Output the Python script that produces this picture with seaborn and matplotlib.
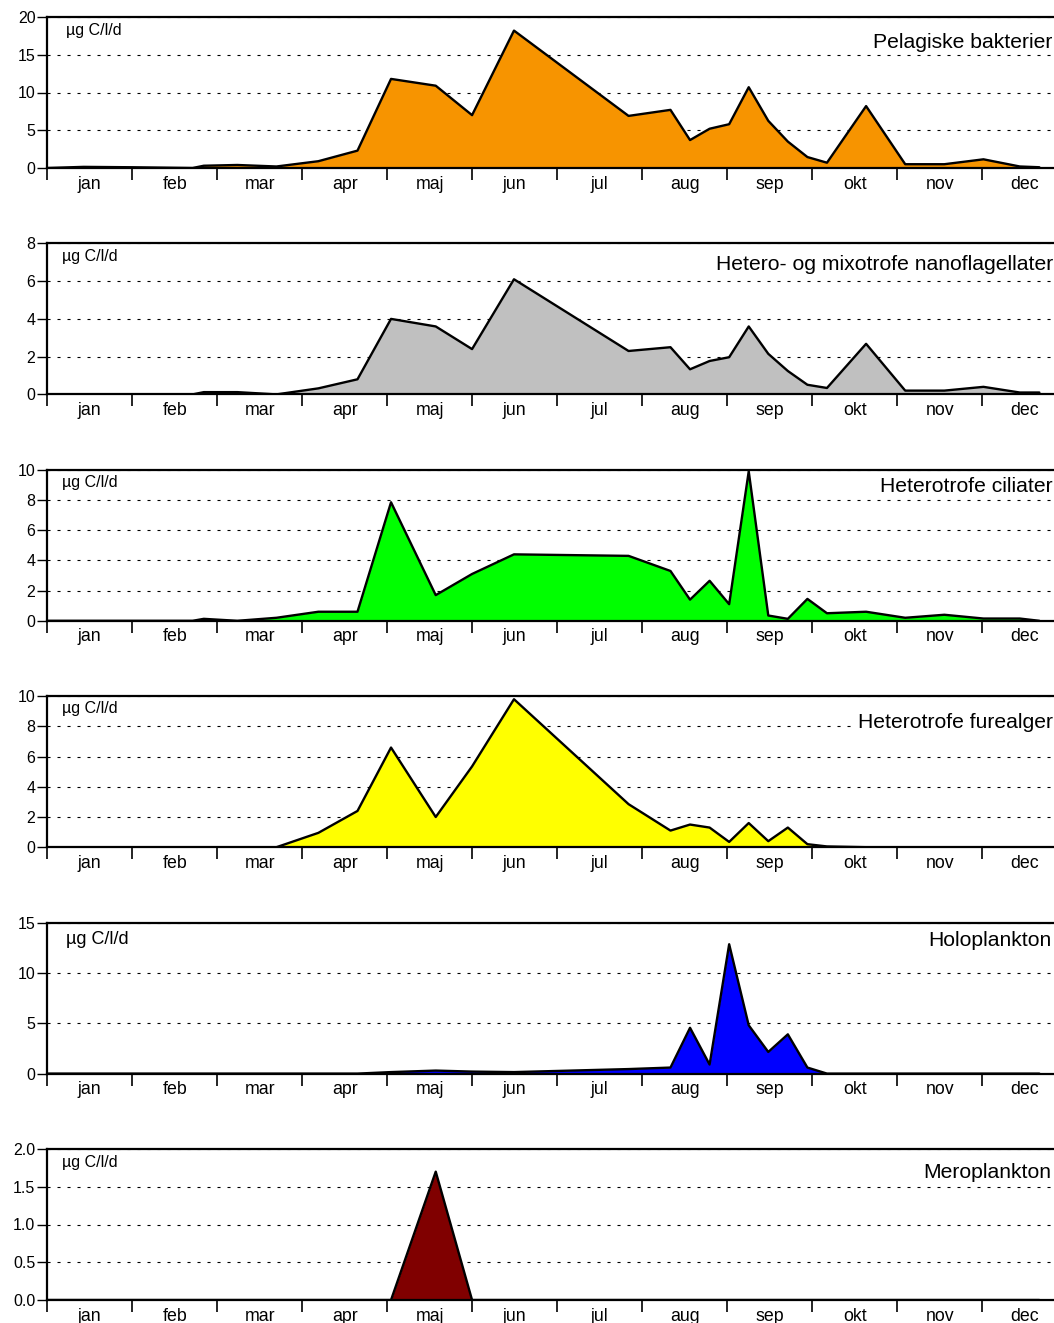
import numpy as np
import pandas as pd
import matplotlib
matplotlib.use("Agg")
import matplotlib.pyplot as plt
import seaborn as sns

# ---------------- data ----------------
months = ["jan", "feb", "mar", "apr", "maj", "jun", "jul", "aug", "sep", "okt", "nov", "dec"]

# sampling dates (day of year)
days = [0, 13, 30, 52, 56, 68, 82, 97, 111, 123,
        139, 152, 167, 208, 223, 230, 237, 244, 251, 258,
        265, 272, 279, 293, 307, 321, 335, 348, 355]

bakterier = [0, 0.15, 0.1, 0.0, 0.3, 0.4, 0.2, 0.9, 2.3, 11.8,
             10.9, 7.0, 18.2, 6.9, 7.7, 3.7, 5.2, 5.8, 10.7, 6.25,
             3.5, 1.45, 0.7, 8.2, 0.5, 0.5, 1.15, 0.2, 0.1]
nanoflagellater = [0, 0, 0, 0, 0.12, 0.12, 0.0, 0.32, 0.8, 4.0,
                   3.6, 2.4, 6.1, 2.3, 2.5, 1.33, 1.77, 1.97, 3.6, 2.15,
                   1.24, 0.51, 0.34, 2.68, 0.2, 0.2, 0.4, 0.1, 0.1]
ciliater = [0, 0, 0, 0, 0.13, 0.0, 0.2, 0.6, 0.6, 7.85,
            1.7, 3.1, 4.4, 4.3, 3.3, 1.4, 2.65, 1.1, 9.9, 0.35,
            0.13, 1.45, 0.5, 0.6, 0.2, 0.4, 0.15, 0.15, 0.0]
furealger = [0, 0, 0, 0, 0, 0, 0, 0.95, 2.4, 6.6,
             2.0, 5.35, 9.8, 2.85, 1.1, 1.5, 1.3, 0.35, 1.6, 0.4,
             1.3, 0.2, 0.05, 0, 0, 0, 0, 0, 0]
holoplankton = [0, 0, 0, 0, 0, 0, 0, 0, 0, 0.15,
                0.3, 0.2, 0.15, 0.45, 0.6, 4.55, 0.9, 12.85, 4.8, 2.15,
                3.9, 0.6, 0, 0, 0, 0, 0, 0, 0]
meroplankton = [0, 0, 0, 0, 0, 0, 0, 0, 0, 0,
                1.7, 0, 0, 0, 0, 0, 0, 0, 0, 0,
                0, 0, 0, 0, 0, 0, 0, 0, 0]

titles = ["Pelagiske bakterier", "Hetero- og mixotrofe nanoflagellater",
          "Heterotrofe ciliater", "Heterotrofe furealger",
          "Holoplankton", "Meroplankton"]
unit = "µg C/l/d"
y_ticks = [[0, 5, 10, 15, 20], [0, 2, 4, 6, 8], [0, 2, 4, 6, 8, 10],
           [0, 2, 4, 6, 8, 10], [0, 5, 10, 15], [0.0, 0.5, 1.0, 1.5, 2.0]]
y_ticklabels = [["0", "5", "10", "15", "20"], ["0", "2", "4", "6", "8"],
                ["0", "2", "4", "6", "8", "10"], ["0", "2", "4", "6", "8", "10"],
                ["0", "5", "10", "15"], ["0.0", "0.5", "1.0", "1.5", "2.0"]]

df = pd.DataFrame({"day": days, "bakterier": bakterier,
                   "nanoflagellater": nanoflagellater, "ciliater": ciliater,
                   "furealger": furealger, "holoplankton": holoplankton,
                   "meroplankton": meroplankton})
series = ["bakterier", "nanoflagellater", "ciliater", "furealger",
          "holoplankton", "meroplankton"]
colors = ["#F79400", "#C0C0C0", "#00FF00", "#FFFF00", "#0000FF", "#800000"]

# ---------------- style ----------------
sns.set_theme(style="white")
plt.rcParams["font.family"] = ["Liberation Sans", "DejaVu Sans"]
plt.rcParams["lines.scale_dashes"] = False
plt.rcParams["text.color"] = "black"
plt.rcParams["xtick.color"] = "black"
plt.rcParams["ytick.color"] = "black"
plt.rcParams["xtick.labelcolor"] = "black"
plt.rcParams["ytick.labelcolor"] = "black"

W, H = 1054, 1323
fig = plt.figure(figsize=(W / 100, H / 100), dpi=100)

tops = [17, 243.4, 469.8, 696.2, 922.6, 1149]
ph = 151
x0, xw = 47.3, 1020

# text placement in pixels
unit_pos = [(66, 30), (62, 257), (62, 483), (62, 709), (66, 940), (62, 1162)]
unit_size = [11.5, 11.5, 11.5, 11.5, 13, 11.5]
title_pos = [(1052, 42), (1053, 265), (1053, 486),
             (1053, 722), (1052, 941), (1051, 1172)]

for i, col in enumerate(series):
    ax = fig.add_axes([x0 / W, 1 - (tops[i] + ph) / H, xw / W, ph / H])
    ax.set_axisbelow(True)
    ax.fill_between(df["day"], df[col], 0, color=colors[i], lw=0, zorder=2)
    sns.lineplot(data=df, x="day", y=col, ax=ax, color="black",
                 linewidth=1.7, zorder=3, sort=False)
    ax.set_xlim(0, 365)
    ax.set_ylim(y_ticks[i][0], y_ticks[i][-1])
    ax.set_xlabel("")
    ax.set_ylabel("")

    ax.set_yticks(y_ticks[i])
    ax.set_yticklabels(y_ticklabels[i])
    ax.tick_params(axis="y", which="major", direction="out", length=7,
                   width=1.0, color="black", labelcolor="black",
                   labelsize=11.5, pad=1.5, left=True)

    ax.set_xticks(np.arange(13) * 365 / 12)
    ax.set_xticklabels([])
    ax.set_xticks(np.arange(12) * 365 / 12 + 365 / 24, minor=True)
    ax.set_xticklabels(months, minor=True)
    ax.tick_params(axis="x", which="major", direction="out", length=8.5,
                   width=1.2, color="black", bottom=True)
    ax.tick_params(axis="x", which="minor", length=0, pad=5.5, labelsize=12.8,
                   labelcolor="black", bottom=True)

    ax.grid(axis="y", which="major", color="black", linewidth=0.8,
            linestyle=(0, (2.2, 5.0)))
    ax.grid(axis="x", visible=False)

    for s in ["top", "left", "bottom"]:
        ax.spines[s].set_color("black")
        ax.spines[s].set_linewidth(1.6)
        ax.spines[s].set_zorder(4)
    ax.spines["right"].set_visible(False)

    ux, uy = unit_pos[i]
    fig.text(ux / W, 1 - uy / H, unit, fontsize=unit_size[i], va="center",
             ha="left", color="black")
    tx, ty = title_pos[i]
    kw = {}
    if i == 3:
        kw["bbox"] = dict(facecolor="white", edgecolor="none", pad=1)
    fig.text(tx / W, 1 - ty / H, titles[i], fontsize=15.2, va="center",
             ha="right", color="black", zorder=5, **kw)

fig.savefig("out.png", dpi=100)
